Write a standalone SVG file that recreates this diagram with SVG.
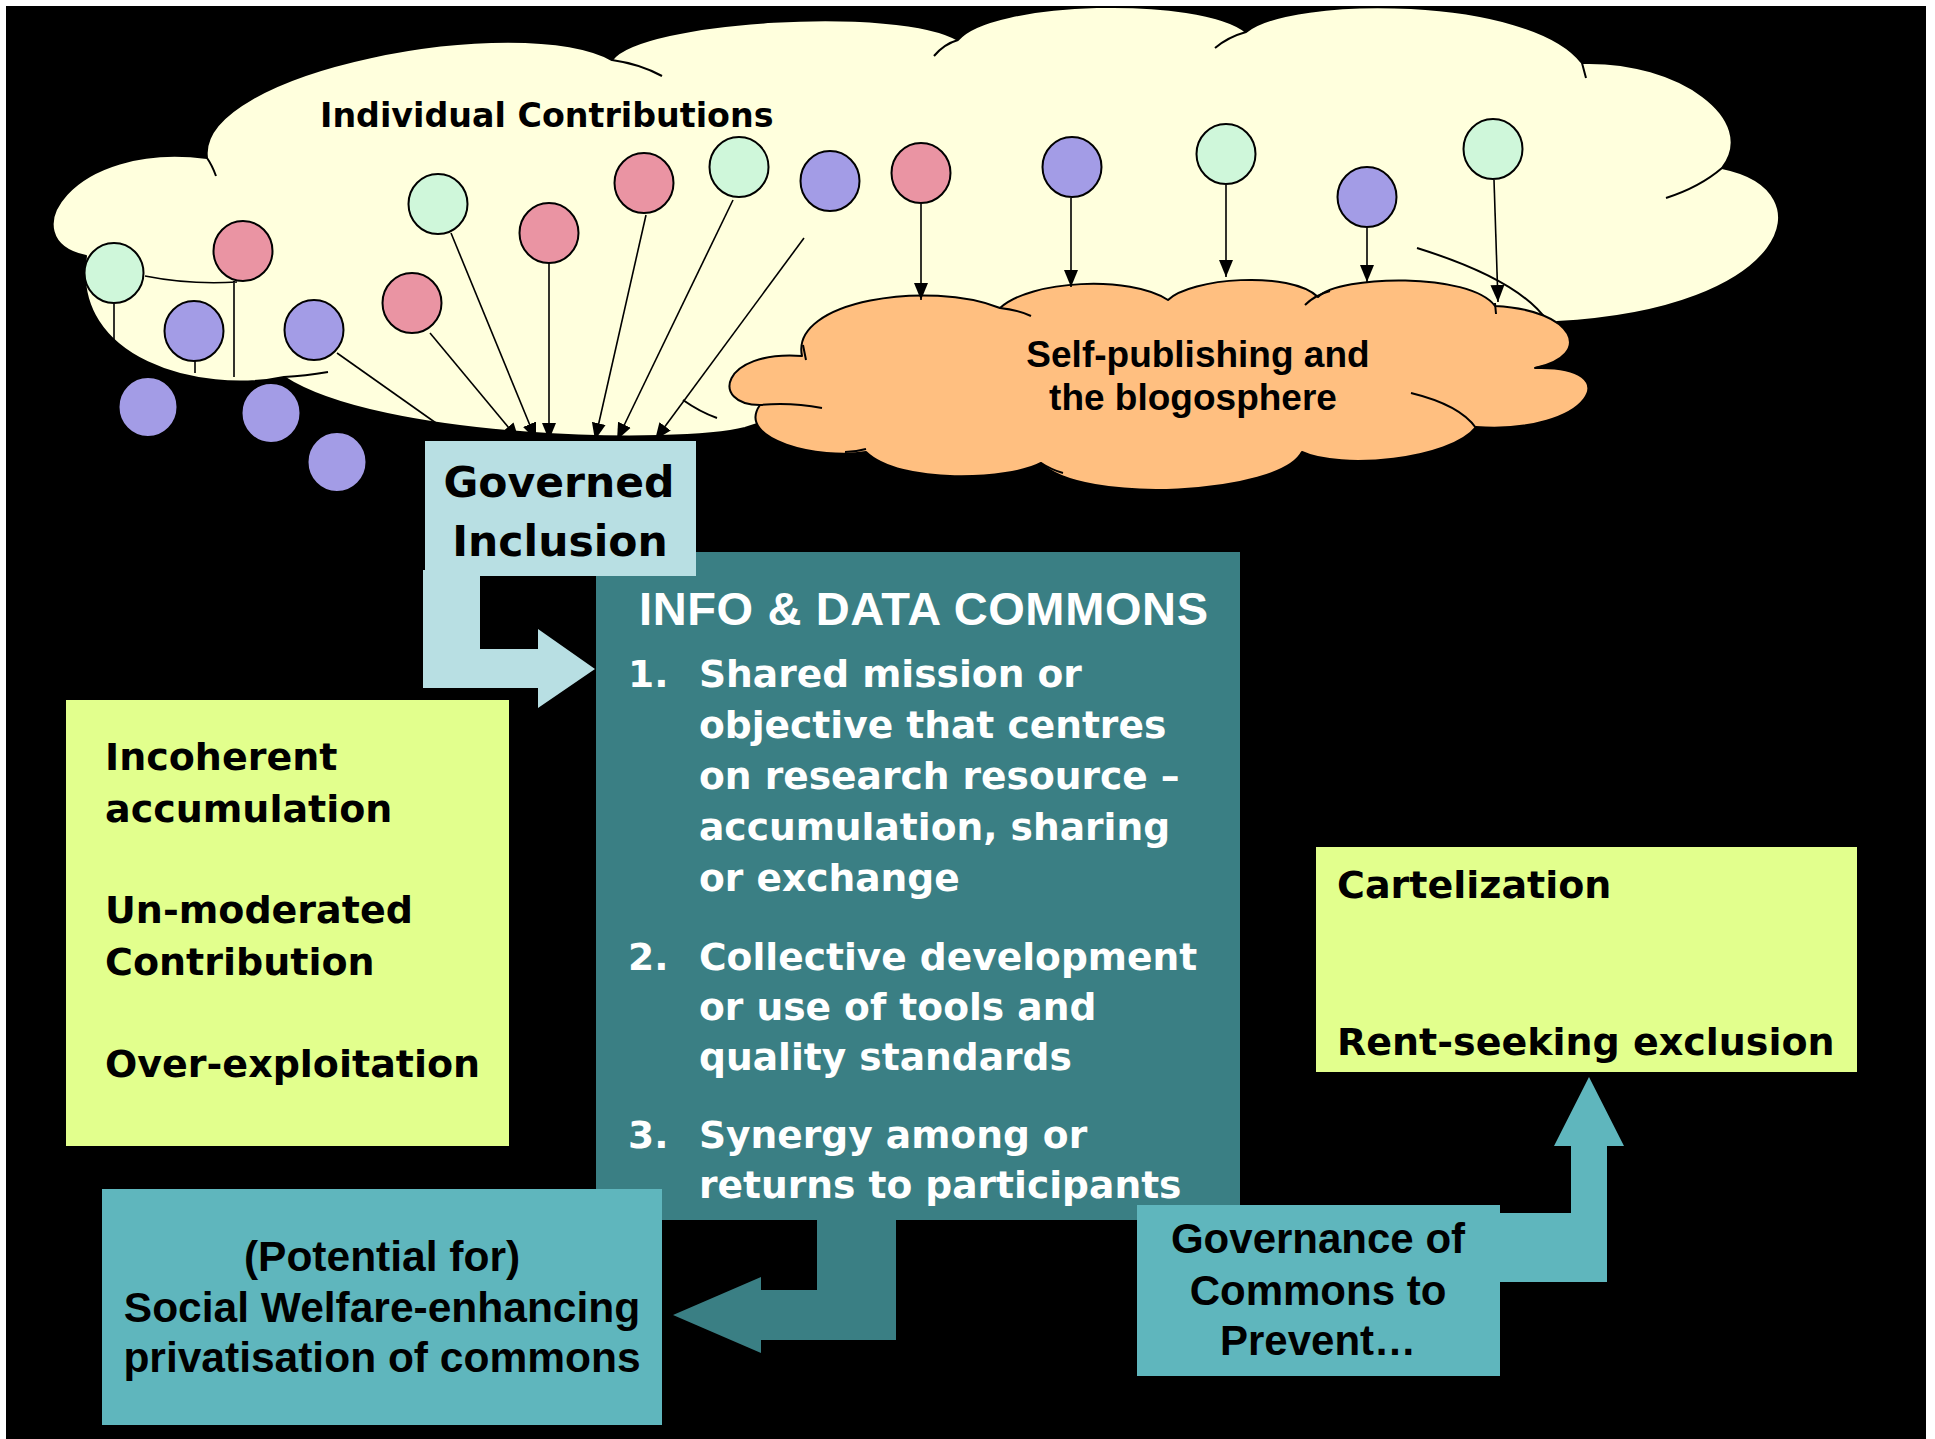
<svg xmlns="http://www.w3.org/2000/svg" width="1935" height="1439" viewBox="0 0 1935 1439">
  <defs>
    <style>
      .cloud{stroke:#000;stroke-width:2;stroke-linejoin:round}
      .tick{stroke:#000;stroke-width:2;fill:none}
      .ln{stroke:#000;stroke-width:1.6;fill:none}
      .arr{stroke:#000;stroke-width:1.6;fill:none;marker-end:url(#ah)}
      .b{stroke:#000;stroke-width:2}
      .g{fill:#CFF7DA}
      .p{fill:#EA94A3}
      .u{fill:#A39CE6}
      .tv{font-family:"DejaVu Sans",Verdana,sans-serif;font-weight:bold}
      .ta{font-family:"Liberation Sans",Arial,sans-serif;font-weight:bold}
    </style>
    <marker id="ah" markerUnits="userSpaceOnUse" markerWidth="18" markerHeight="16" viewBox="0 0 18 16" refX="17" refY="8" orient="auto">
      <path d="M0,1 L17,8 L0,15 z" fill="#000"/>
    </marker>
  </defs>

  <rect x="0" y="0" width="1935" height="1439" fill="#fff"/>
  <rect x="6" y="6" width="1920" height="1433" fill="#000"/>

  <g id="cloud-individual">
    <path class="cloud" fill="#FFFFDD" d="M86,256 C10,240 70,140 207,158 C195,70 520,10 612,60 C640,20 900,5 958,40 C990,0 1200,-5 1246,32 C1290,-5 1530,-5 1582,63 C1680,60 1760,120 1722,168 C1830,190 1790,310 1557,322 L1540,380 L1200,400 L800,410 L745,428 C680,445 380,440 284,377 C200,395 70,360 86,256 Z"/>
    <path class="tick" d="M207,158 Q212,165 216,176 M612,60 Q640,64 662,76 M958,40 Q944,44 934,56 M1246,32 Q1228,37 1215,48 M1582,63 L1586,78 M1722,168 Q1700,187 1666,198 M1417,248 Q1520,280 1548,322 M284,377 Q305,376 328,372 M717,418 Q700,412 683,400"/>
    <text class="tv" x="320" y="127" font-size="33.3" fill="#000">Individual Contributions</text>
  </g>

  <g id="balloons">
    <g id="b1"><ellipse class="b g" cx="114" cy="273" rx="29.5" ry="30"/></g>
    <g id="b2"><ellipse class="b p" cx="243" cy="251" rx="29.5" ry="30"/></g>
    <g id="b3"><ellipse class="b u" cx="194" cy="331" rx="29.5" ry="30"/></g>
    <g id="b4"><ellipse class="b u" cx="314" cy="330" rx="29.5" ry="30"/></g>
    <g id="b5"><ellipse class="b p" cx="412" cy="303" rx="29.5" ry="30"/></g>
    <g id="b6"><ellipse class="b g" cx="438" cy="204" rx="29.5" ry="30"/></g>
    <g id="b7"><ellipse class="b p" cx="549" cy="233" rx="29.5" ry="30"/></g>
    <g id="b8"><ellipse class="b p" cx="644" cy="183" rx="29.5" ry="30"/></g>
    <g id="b9"><ellipse class="b g" cx="739" cy="167" rx="29.5" ry="30"/></g>
    <g id="b10"><ellipse class="b u" cx="830" cy="181" rx="29.5" ry="30"/></g>
    <g id="b11"><ellipse class="b p" cx="921" cy="173" rx="29.5" ry="30"/></g>
    <g id="b12"><ellipse class="b u" cx="1072" cy="167" rx="29.5" ry="30"/></g>
    <g id="b13"><ellipse class="b g" cx="1226" cy="154" rx="29.5" ry="30"/></g>
    <g id="b14"><ellipse class="b u" cx="1367" cy="197" rx="29.5" ry="30"/></g>
    <g id="b15"><ellipse class="b g" cx="1493" cy="149" rx="29.5" ry="30"/></g>
    <g id="b16"><ellipse class="b u" cx="148" cy="407" rx="29.5" ry="30"/></g>
    <g id="b17"><ellipse class="b u" cx="271" cy="413" rx="29.5" ry="30"/></g>
    <g id="b18"><ellipse class="b u" cx="337" cy="462" rx="29.5" ry="30"/></g>
  </g>

  <g id="cloud-blogosphere">
    <path class="cloud" fill="#FFBF80" d="M802,356 C790,300 930,280 1000,308 C1030,280 1130,275 1168,300 C1190,278 1290,270 1318,297 C1340,275 1470,272 1495,306 C1575,310 1595,355 1535,368 C1630,365 1590,435 1476,427 C1450,460 1340,470 1302,452 C1280,495 1080,505 1041,463 C1010,480 900,485 866,452 C820,460 735,440 760,405 C710,405 720,350 802,356 Z"/>
    <path class="tick" d="M1000,308 Q1018,310 1031,316 M1305,305 Q1315,295 1330,291 M1495,303 L1496,314 M1535,368 Q1555,365 1569,356 M1411,393 Q1460,405 1476,428 M1302,452 Q1302,460 1299,467 M1041,463 Q1052,470 1063,473 M845,452 Q855,452 866,449 M760,405 Q790,402 822,408 M803,345 L806,360"/>
    <text class="ta" font-size="37" fill="#000" text-anchor="middle"><tspan x="1198" y="367">Self-publishing and</tspan><tspan x="1193" y="410">the blogosphere</tspan></text>
  </g>

  <g id="connectors">
    <path class="ln" d="M114,304 L114,347 M145,276 Q190,285 237,282 M234,281 L234,377 M195,361 L195,373"/>
    <path class="arr" d="M337,353 L460,440"/>
    <path class="arr" d="M430,333 L519,440"/>
    <path class="arr" d="M451,233 L536,440"/>
    <path class="arr" d="M549,263 L549,440"/>
    <path class="arr" d="M646,215 L595,440"/>
    <path class="arr" d="M733,200 L617,440"/>
    <path class="arr" d="M804,238 L655,440"/>
    <path class="arr" d="M921,204 L921,300"/>
    <path class="arr" d="M1071,198 L1071,287"/>
    <path class="arr" d="M1226,185 L1226,277"/>
    <path class="arr" d="M1367,228 L1367,282"/>
    <path class="arr" d="M1494,180 L1498,302"/>
    <polygon id="arrow-privatisation" fill="#3A7F84" points="817,1215 896,1215 896,1340 761,1340 761,1353 673,1315 761,1277 761,1290 817,1290"/>
    <polygon id="arrow-governance" fill="#5FB6BD" points="1490,1213 1571,1213 1571,1146 1554,1146 1589,1077 1624,1146 1607,1146 1607,1282 1490,1282"/>
  </g>

  <g id="info-data-commons">
    <rect x="596" y="552" width="644" height="668" fill="#3A7F84"/>
    <text class="ta" x="639" y="625" font-size="47" fill="#fff" textLength="569">INFO &amp; DATA COMMONS</text>
    <g class="tv" font-size="37.6" fill="#fff">
      <text x="628" y="687">1.</text>
      <text x="699" y="687">Shared mission or</text>
      <text x="699" y="738">objective that centres</text>
      <text x="699" y="789">on research resource –</text>
      <text x="699" y="840">accumulation, sharing</text>
      <text x="699" y="891">or exchange</text>
      <text x="628" y="970">2.</text>
      <text x="699" y="970">Collective development</text>
      <text x="699" y="1020">or use of tools and</text>
      <text x="699" y="1070">quality standards</text>
      <text x="628" y="1148">3.</text>
      <text x="699" y="1148">Synergy among or</text>
      <text x="699" y="1198">returns to participants</text>
    </g>
  </g>

  <g id="governed-inclusion">
    <polygon id="arrow-inclusion" fill="#B8DFE3" points="423,570 480,570 480,649 538,649 538,629 595,669 538,708 538,688 423,688"/>
    <rect x="425" y="441" width="271" height="135" fill="#B8DFE3"/>
    <text class="tv" font-size="42.5" fill="#000" text-anchor="middle"><tspan x="559" y="497">Governed</tspan><tspan x="560" y="556">Inclusion</tspan></text>
  </g>

  <g id="risks-open">
    <rect x="66" y="700" width="443" height="446" fill="#E2FF8D"/>
    <g class="tv" font-size="38" fill="#000">
      <text x="105" y="770">Incoherent</text>
      <text x="105" y="822">accumulation</text>
      <text x="105" y="923">Un-moderated</text>
      <text x="105" y="975">Contribution</text>
      <text x="105" y="1077">Over-exploitation</text>
    </g>
  </g>

  <g id="risks-closed">
    <rect x="1316" y="847" width="541" height="225" fill="#E2FF8D"/>
    <g class="tv" font-size="38" fill="#000">
      <text x="1337" y="898">Cartelization</text>
      <text x="1337" y="1055">Rent-seeking exclusion</text>
    </g>
  </g>

  <g id="privatisation">
    <rect x="102" y="1189" width="560" height="236" fill="#5FB6BD"/>
    <text class="ta" font-size="42.5" fill="#000" text-anchor="middle"><tspan x="382" y="1271">(Potential for)</tspan><tspan x="382" y="1322">Social Welfare-enhancing</tspan><tspan x="382" y="1372">privatisation of commons</tspan></text>
  </g>

  <g id="governance">
    <rect x="1137" y="1205" width="363" height="171" fill="#5FB6BD"/>
    <text class="ta" font-size="42" fill="#000" text-anchor="middle"><tspan x="1318" y="1253">Governance of</tspan><tspan x="1318" y="1305">Commons to</tspan><tspan x="1318" y="1355">Prevent…</tspan></text>
  </g>
</svg>
